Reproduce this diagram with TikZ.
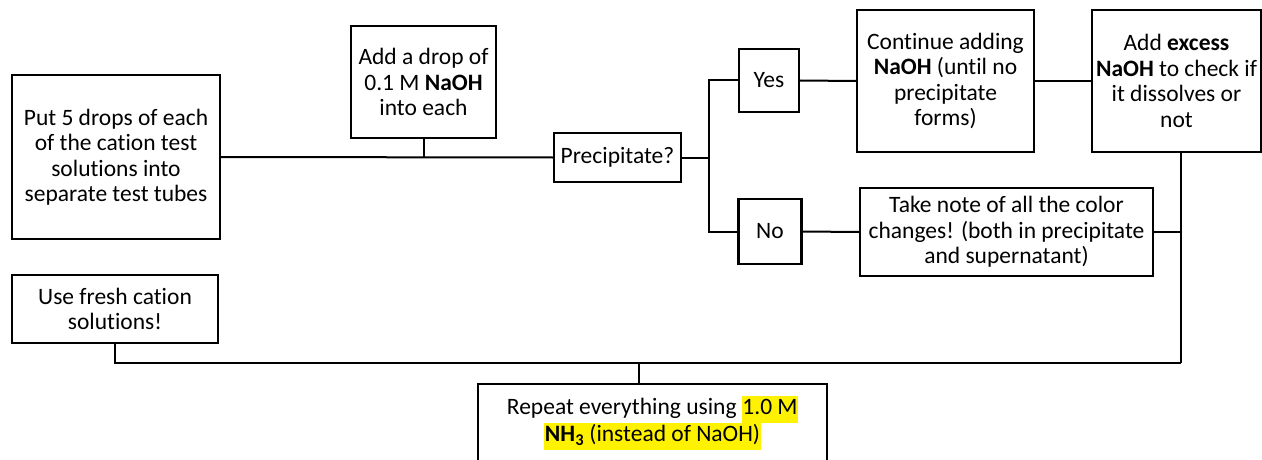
\documentclass[tikz,border=0pt]{standalone}
\usepackage{fontspec}
\setmainfont{Carlito}[Ligatures=NoCommon]
\usepackage{xcolor}
\newcommand\hlbox[1]{{\setlength{\fboxsep}{0.5pt}\colorbox{yellow}{\strut #1}}}
\begin{document}
\begin{tikzpicture}[x=1pt,y=-1pt,
  box/.style={draw=black,line width=2.3pt,align=center,inner sep=0pt,
    font=\fontsize{23.5}{25.5}\selectfont},
  conn/.style={draw=black,line width=2pt}]
\useasboundingbox (0,0) rectangle (1262,460);
\node[box,minimum width=208pt,minimum height=164pt] (put) at (116,157)
  {Put 5 drops of each\\of the cation test\\solutions into\\separate test tubes};
\node[box,minimum width=145pt,minimum height=112pt] (drop) at (423.5,82)
  {Add a drop of\\0.1 M \textbf{NaOH}\\into each};
\node[box,minimum width=127pt,minimum height=49pt] (prec) at (617.5,157.5)
  {Precipitate?};
\node[box,minimum width=60pt,minimum height=63pt] (yes) at (769,80.5) {Yes};
\node[box,minimum width=63pt,minimum height=65pt] (no) at (770,231.5) {No};
\node[box,minimum width=177pt,minimum height=142pt] (cont) at (945.5,81)
  {Continue adding\\\textbf{NaOH} (until no\\precipitate\\forms)};
\node[box,minimum width=169pt,minimum height=142pt] (excess) at (1176.5,81)
  {Add \textbf{excess}\\\textbf{NaOH} to check if\\it dissolves or\\not};
\node[box,minimum width=293pt,minimum height=88pt] (note) at (1006.5,232)
  {Take note of all the color\\changes! (both in precipitate\\and supernatant)};
\node[box,minimum width=206pt,minimum height=68pt] (fresh) at (115,309)
  {Use fresh cation\\solutions!};
\node[box,minimum width=349pt,minimum height=78pt] (repeat) at (652.5,423)
  {Repeat everything using \hlbox{1.0 M}\\[-0.5pt]\hlbox{\textbf{NH\textsubscript{3}} (instead of NaOH)}};
\coordinate (br) at (709,157.5);
\coordinate (jr) at (1181,363);
\coordinate (jm) at (639,363);
\draw[conn] (put.east) -- (prec.west);
\draw[conn] (drop.south) -- (drop.south |- put.east);
\draw[conn] (prec.east) -- (br);
\draw[conn] (yes.west) -| (br) |- (no.west);
\draw[conn] (yes.east) -- (cont.west);
\draw[conn] (cont.east) -- (excess.west);
\draw[conn] (no.east) -- (note.west);
\draw[conn] (excess.south -| jr) -- (jr);
\draw[conn] (note.east) -- (note.east -| jr);
\draw[conn] (fresh.south) |- (jr);
\draw[conn] (jm) -- (jm |- repeat.north);
\end{tikzpicture}
\end{document}
